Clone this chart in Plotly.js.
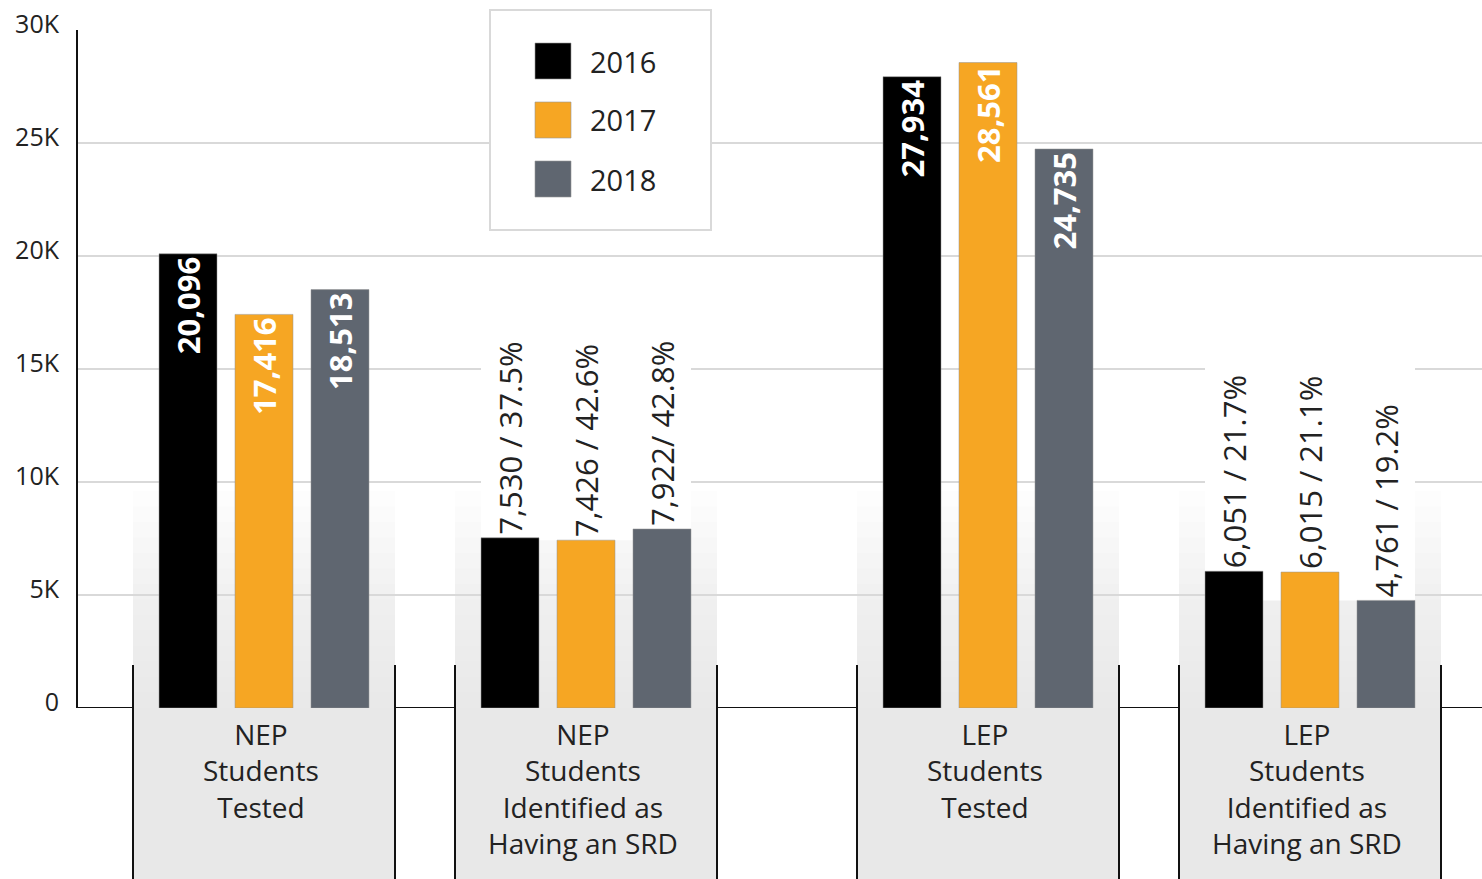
<!DOCTYPE html>
<html>
<head>
<meta charset="utf-8">
<script src="https://cdn.plot.ly/plotly-3.0.1.min.js"></script>
<style>html,body{margin:0;padding:0;background:#fff;}#chart{width:1482px;height:879px;}</style>
</head>
<body>
<div id="chart"></div>
<script>
// ---- data ----
const categories = [
  'NEP<br>Students<br>Tested',
  'NEP<br>Students<br>Identified as<br>Having an SRD',
  'LEP<br>Students<br>Tested',
  'LEP<br>Students<br>Identified as<br>Having an SRD'
];
const years = ['2016', '2017', '2018'];
const values2016 = [20096, 7530, 27934, 6051];
const values2017 = [17416, 7426, 28561, 6015];
const values2018 = [18513, 7922, 24735, 4761];
const labels2016 = ['20,096', '7,530 / 37.5%', '27,934', '6,051 / 21.7%'];
const labels2017 = ['17,416', '7,426 / 42.6%', '28,561', '6,015 / 21.1%'];
const labels2018 = ['18,513', '7,922/ 42.8%', '24,735', '4,761 / 19.2%'];
const yTickVals = [0, 5000, 10000, 15000, 20000, 25000, 30000];
const yTickText = ['0', '5K', '10K', '15K', '20K', '25K', '30K'];

// ---- layout / style ----
const catPos = [186, 508, 910, 1232];          // group centres on the x axis (axis units = px)
const labelInside = [true, false, true, false];
const colors = ['#000000', '#F6A623', '#5F6670'];
const FONT = 'Open Sans, Noto Sans, sans-serif';
const TXT = '#222222';
const boxHalf = 131;
const W = 1404, H = 678, TOP = 30, LEFT = 78;
const py = p => (TOP + H - p) / H;   // pixel row -> paper y

const series = [values2016, values2017, values2018];
const labels = [labels2016, labels2017, labels2018];

const traces = series.map((vals, i) => ({
  type: 'bar',
  name: years[i],
  x: catPos,
  y: vals,
  text: labels[i],
  textposition: labelInside.map(b => b ? 'inside' : 'outside'),
  insidetextanchor: 'end',
  textangle: -90,
  constraintext: 'none',
  cliponaxis: false,
  insidetextfont: {family: FONT, size: 31, color: '#ffffff', weight: 'bold'},
  outsidetextfont: {family: FONT, size: 31, color: TXT},
  marker: {color: colors[i], line: {width: 1, color: 'rgba(150,150,150,0.5)'}},
  hoverinfo: 'skip',
  showlegend: false
}));

const shapes = [];
const annotations = [];

// category boxes under the axis, gradients above
const N = 14;
catPos.forEach((cx, k) => {
  shapes.push({type: 'rect', layer: 'below', xref: 'x', yref: 'paper',
    x0: cx - boxHalf, x1: cx + boxHalf, y0: -0.3, y1: 0,
    fillcolor: '#E8E8E8', line: {width: 0}});
  for (let i = 0; i < N; i++) {
    shapes.push({type: 'rect', layer: 'below', xref: 'x', yref: 'y',
      x0: cx - boxHalf, x1: cx + boxHalf, y0: 0, y1: 9600 * (1 - i / N),
      fillcolor: '#DCDCDC', opacity: 0.065, line: {width: 0}});
  }
  // white backgrounds behind outside labels
  if (!labelInside[k]) {
    const vs = series.map(s => s[k]);
    shapes.push({type: 'rect', layer: 'between', xref: 'x', yref: 'y',
      x0: cx - 105, x1: cx + 105, y0: Math.min(...vs), y1: Math.max(...vs) + 9500,
      fillcolor: '#ffffff', line: {width: 0}});
  }
  // vertical borders
  [cx - boxHalf, cx + boxHalf].forEach(xx => shapes.push({type: 'line', layer: 'above',
    xref: 'x', yref: 'paper', x0: xx, x1: xx, y0: py(665), y1: -0.3,
    line: {color: '#111', width: 2}}));
  annotations.push({xref: 'x', yref: 'paper', x: cx - 3, y: 0, yanchor: 'top', xanchor: 'center',
    yshift: -5, text: categories[k], showarrow: false, align: 'center',
    font: {family: FONT, size: 28, color: TXT}});
});

// bottom axis segments between boxes
const edges = [0];
catPos.forEach(cx => { edges.push(cx - boxHalf); edges.push(cx + boxHalf); });
edges.push(W);
for (let i = 0; i < edges.length; i += 2) {
  shapes.push({type: 'line', layer: 'above', xref: 'x', yref: 'y',
    x0: edges[i] - (i === 0 ? 1 : 0), x1: edges[i + 1], y0: 0, y1: 0,
    line: {color: '#111', width: 2}});
}

// custom legend
shapes.push({type: 'rect', layer: 'above', xref: 'x', yref: 'paper',
  x0: 490 - LEFT, x1: 711 - LEFT, y0: py(230), y1: py(10),
  fillcolor: '#ffffff', line: {color: '#D9D9D9', width: 2}});
const rowTop = [43, 102, 161];
years.forEach((yr, i) => {
  shapes.push({type: 'rect', layer: 'above', xref: 'x', yref: 'paper',
    x0: 535 - LEFT, x1: 571 - LEFT, y0: py(rowTop[i] + 36), y1: py(rowTop[i]),
    fillcolor: colors[i], line: {color: 'rgba(150,150,150,0.6)', width: 1}});
  annotations.push({xref: 'x', yref: 'paper', x: 588 - LEFT, y: py(rowTop[i] + 18),
    xanchor: 'left', yanchor: 'middle', text: yr, showarrow: false,
    font: {family: FONT, size: 29, color: TXT}});
});

const layout = {
  width: 1482, height: 879,
  margin: {l: LEFT, r: 0, t: TOP, b: 879 - TOP - H, pad: 0},
  paper_bgcolor: '#ffffff', plot_bgcolor: 'rgba(0,0,0,0)',
  barmode: 'group', bargap: 0.292, bargroupgap: 0.237,
  showlegend: false,
  xaxis: {range: [0, W], showticklabels: false, showgrid: false, zeroline: false,
          showline: false, ticks: '', fixedrange: true},
  yaxis: {range: [0, 30000], tickvals: yTickVals, ticktext: yTickText,
          showgrid: true, gridcolor: '#D9D9D9', gridwidth: 2, zeroline: false,
          showline: true, linecolor: '#111', linewidth: 2, ticks: '',
          ticklabelstandoff: 12, ticklabelshift: -6,
          tickfont: {family: FONT, size: 25, color: TXT}, fixedrange: true},
  shapes: shapes,
  annotations: annotations
};

Plotly.newPlot('chart', traces, layout, {displayModeBar: false, staticPlot: true});
</script>
</body>
</html>
